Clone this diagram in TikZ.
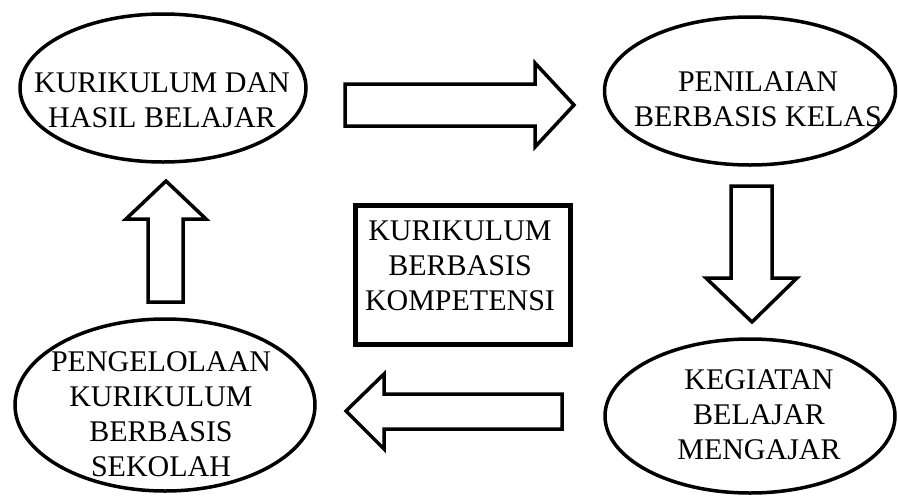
\documentclass[tikz,border=0pt]{standalone}
\usepackage{fontspec}
\setmainfont{Liberation Serif}
\usetikzlibrary{shapes.geometric}
\begin{document}
\begin{tikzpicture}[x=1pt,y=-1pt,
	oval/.style={draw, ellipse, line width=3.5pt, inner sep=0pt},
	txt/.style={align=center, font=\fontsize{30}{35}\selectfont, inner sep=0pt},
	bigarrow/.style={draw, line width=3.5pt, fill=white}]
	\useasboundingbox (0,0) rectangle (898,496);
	% the four stages
	\node[oval, minimum width=286pt, minimum height=148pt] (khb) at (163,88) {};
	\node[txt] (khbtext) at (162,100) {KURIKULUM DAN\\HASIL BELAJAR};
	\node[oval, minimum width=291pt, minimum height=148pt] (pbk) at (750,91) {};
	\node[txt] (pbktext) at (758,99) {PENILAIAN\\BERBASIS KELAS};
	\node[oval, minimum width=290pt, minimum height=154pt] (kbm) at (750,416) {};
	\node[txt] (kbmtext) at (759,415) {KEGIATAN\\BELAJAR\\MENGAJAR};
	\node[oval, minimum width=300pt, minimum height=172pt] (pkbs) at (165,405) {};
	\node[txt] (pkbstext) at (161,414) {PENGELOLAAN\\KURIKULUM\\BERBASIS\\SEKOLAH};
	% centre box
	\node[draw, line width=4.5pt, minimum width=215pt, minimum height=139pt] (kbk) at (463,275) {};
	\node[txt] (kbktext) at (460,266) {KURIKULUM\\BERBASIS\\KOMPETENSI};
	% block arrows
	\draw[bigarrow] (345,84) -- (535,84) -- (535,63) -- (574,105) -- (535,147) -- (535,126) -- (345,126) -- cycle;
	\draw[bigarrow] (731,186) -- (772,186) -- (772,278) -- (797,278) -- (752,322) -- (706,278) -- (731,278) -- cycle;
	\draw[bigarrow] (562,394) -- (384,394) -- (384,374) -- (346,411) -- (384,449) -- (384,429) -- (562,429) -- cycle;
	\draw[bigarrow] (148,302) -- (148,219) -- (126,219) -- (166,181) -- (206,219) -- (183,219) -- (183,302) -- cycle;
\end{tikzpicture}
\end{document}
